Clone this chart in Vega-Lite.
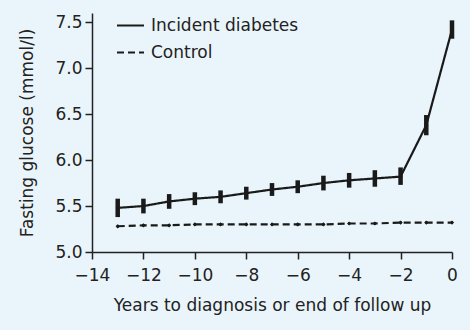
{
  "$schema": "https://vega.github.io/schema/vega-lite/v6.json",
  "autosize": {"type": "none"},
  "width": 360,
  "height": 239,
  "padding": {"left": 92, "top": 13, "right": 18, "bottom": 78},
  "background": "#eaf5fb",
  "config": {
    "view": {"stroke": null},
    "font": "DejaVu Sans",
    "axis": {"domainColor": "#222", "domainWidth": 1.5, "tickColor": "#222", "tickWidth": 1.5, "tickSize": 7, "labelFontSize": 17, "labelColor": "#222", "titleFontSize": 17, "titleFontWeight": "normal", "titleColor": "#222", "grid": false, "labelFont": "DejaVu Sans", "titleFont": "DejaVu Sans", "labelOverlap": false, "labelFlush": false, "labelBound": false}
  },
  "data": {"values": [
    {"year": -13, "group": "Incident diabetes", "glucose": 5.48, "lo": 5.38, "hi": 5.58},
    {"year": -12, "group": "Incident diabetes", "glucose": 5.50, "lo": 5.42, "hi": 5.58},
    {"year": -11, "group": "Incident diabetes", "glucose": 5.55, "lo": 5.47, "hi": 5.63},
    {"year": -10, "group": "Incident diabetes", "glucose": 5.58, "lo": 5.51, "hi": 5.65},
    {"year": -9, "group": "Incident diabetes", "glucose": 5.60, "lo": 5.53, "hi": 5.67},
    {"year": -8, "group": "Incident diabetes", "glucose": 5.64, "lo": 5.57, "hi": 5.71},
    {"year": -7, "group": "Incident diabetes", "glucose": 5.68, "lo": 5.61, "hi": 5.75},
    {"year": -6, "group": "Incident diabetes", "glucose": 5.71, "lo": 5.64, "hi": 5.78},
    {"year": -5, "group": "Incident diabetes", "glucose": 5.75, "lo": 5.67, "hi": 5.83},
    {"year": -4, "group": "Incident diabetes", "glucose": 5.78, "lo": 5.70, "hi": 5.86},
    {"year": -3, "group": "Incident diabetes", "glucose": 5.80, "lo": 5.71, "hi": 5.89},
    {"year": -2, "group": "Incident diabetes", "glucose": 5.82, "lo": 5.73, "hi": 5.92},
    {"year": -1, "group": "Incident diabetes", "glucose": 6.38, "lo": 6.27, "hi": 6.49},
    {"year": 0, "group": "Incident diabetes", "glucose": 7.42, "lo": 7.32, "hi": 7.52},
    {"year": -13, "group": "Control", "glucose": 5.28, "lo": 5.265, "hi": 5.295},
    {"year": -12, "group": "Control", "glucose": 5.29, "lo": 5.275, "hi": 5.305},
    {"year": -11, "group": "Control", "glucose": 5.29, "lo": 5.275, "hi": 5.305},
    {"year": -10, "group": "Control", "glucose": 5.30, "lo": 5.285, "hi": 5.315},
    {"year": -9, "group": "Control", "glucose": 5.30, "lo": 5.285, "hi": 5.315},
    {"year": -8, "group": "Control", "glucose": 5.30, "lo": 5.285, "hi": 5.315},
    {"year": -7, "group": "Control", "glucose": 5.30, "lo": 5.285, "hi": 5.315},
    {"year": -6, "group": "Control", "glucose": 5.30, "lo": 5.285, "hi": 5.315},
    {"year": -5, "group": "Control", "glucose": 5.30, "lo": 5.285, "hi": 5.315},
    {"year": -4, "group": "Control", "glucose": 5.31, "lo": 5.295, "hi": 5.325},
    {"year": -3, "group": "Control", "glucose": 5.31, "lo": 5.295, "hi": 5.325},
    {"year": -2, "group": "Control", "glucose": 5.32, "lo": 5.305, "hi": 5.335},
    {"year": -1, "group": "Control", "glucose": 5.32, "lo": 5.305, "hi": 5.335},
    {"year": 0, "group": "Control", "glucose": 5.32, "lo": 5.305, "hi": 5.335}
  ]},
  "encoding": {
    "x": {"field": "year", "type": "quantitative", "scale": {"domain": [-14, 0], "nice": false}, "axis": {"values": [-14, -12, -10, -8, -6, -4, -2, 0], "labelExpr": "replace(datum.label, '-', '\u2212')", "title": "Years to diagnosis or end of follow up", "labelPadding": 8, "titlePadding": 14}}
  },
  "layer": [
    {
      "mark": {"type": "line", "color": "#1a1a1a", "strokeWidth": 2.2},
      "encoding": {
        "y": {"field": "glucose", "type": "quantitative", "scale": {"domain": [5, 7.6], "nice": false, "zero": false}, "axis": {"values": [5, 5.5, 6, 6.5, 7, 7.5], "format": ".1f", "title": "Fasting glucose (mmol/l)", "labelPadding": 3, "titlePadding": 18}},
        "strokeDash": {"field": "group", "type": "nominal", "scale": {"domain": ["Incident diabetes", "Control"], "range": [[1, 0], [7, 4]]},
          "legend": {"title": null, "orient": "none", "legendX": 24, "legendY": -2, "symbolType": "stroke", "symbolSize": 729, "symbolStrokeColor": "#1a1a1a", "symbolStrokeWidth": 2, "labelFontSize": 17, "labelFont": "DejaVu Sans", "labelColor": "#222", "labelOffset": 6, "rowPadding": 4}}
      }
    },
    {
      "transform": [{"filter": "datum.group === 'Incident diabetes'"}],
      "mark": {"type": "rule", "color": "#1a1a1a", "strokeWidth": 4.5},
      "encoding": {
        "y": {"field": "lo", "type": "quantitative"},
        "y2": {"field": "hi"}
      }
    },
    {
      "transform": [{"filter": "datum.group === 'Control'"}],
      "mark": {"type": "rule", "color": "#1a1a1a", "strokeWidth": 2},
      "encoding": {
        "y": {"field": "lo", "type": "quantitative"},
        "y2": {"field": "hi"}
      }
    },
    {
      "mark": {"type": "point", "shape": "diamond", "filled": true, "color": "#1a1a1a", "size": 18, "opacity": 1},
      "encoding": {
        "y": {"field": "glucose", "type": "quantitative"}
      }
    }
  ]
}
